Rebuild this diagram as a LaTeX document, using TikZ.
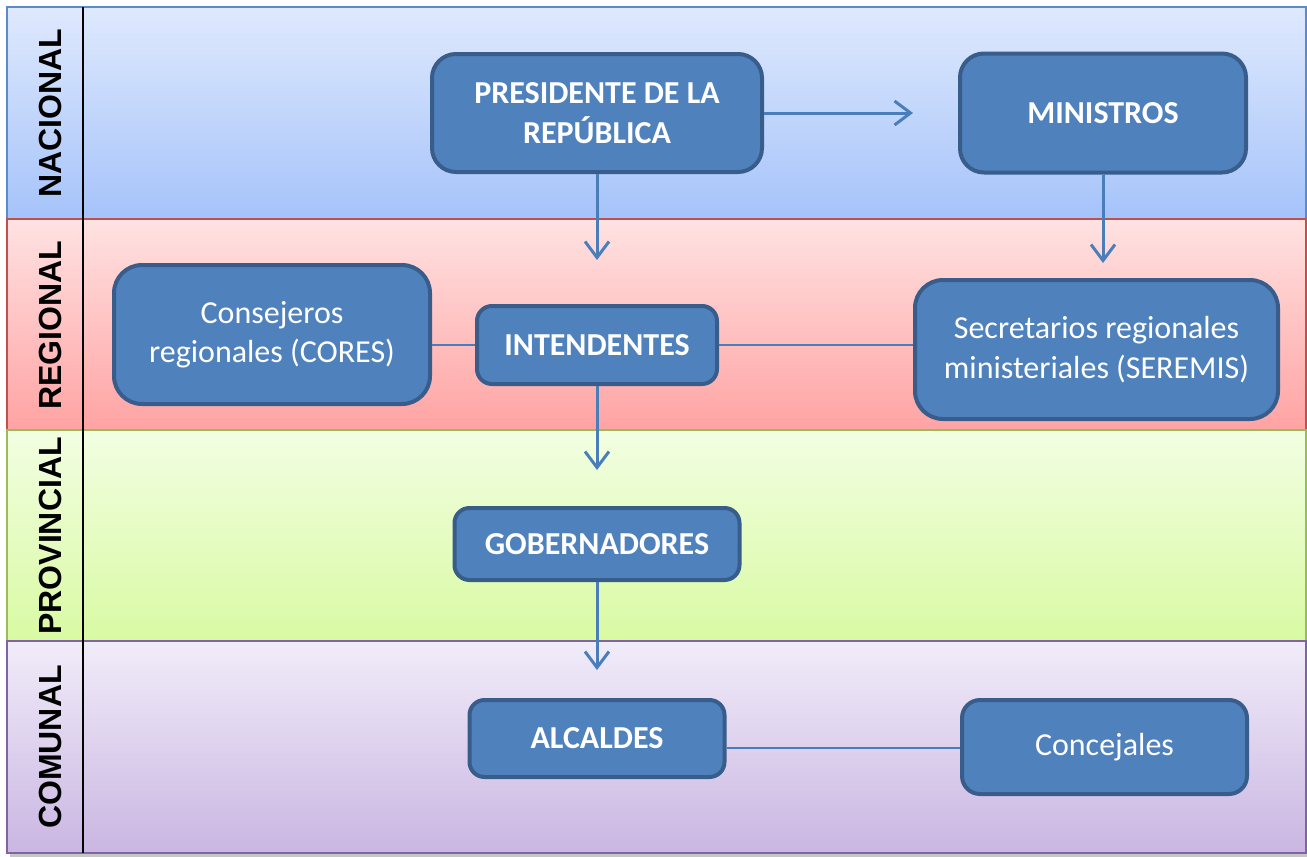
\documentclass[tikz,border=0pt]{standalone}
\usepackage{fontspec}
\setmainfont{Carlito}
\newfontfamily\labfont{Liberation Sans}
\usetikzlibrary{arrows.meta}
\definecolor{boxfill}{HTML}{4F81BD}
\definecolor{boxline}{HTML}{385D8A}
\definecolor{conn}{HTML}{4A7EBB}
\definecolor{natA}{HTML}{DFE9FD}
\definecolor{natB}{HTML}{A5C3FA}
\definecolor{natL}{HTML}{5B8BCB}
\definecolor{regA}{HTML}{FFE2E2}
\definecolor{regB}{HTML}{FFA3A3}
\definecolor{regL}{HTML}{C0504D}
\definecolor{proA}{HTML}{F2FEE2}
\definecolor{proB}{HTML}{D9FAA3}
\definecolor{proL}{HTML}{9BBB59}
\definecolor{comA}{HTML}{F1ECF9}
\definecolor{comB}{HTML}{CAB6E2}
\definecolor{comL}{HTML}{8064A2}
\begin{document}
\begin{tikzpicture}[x=1pt,y=-1pt,
  orgbox/.style={draw=boxline, line width=4pt, fill=boxfill, text=white,
    rectangle, inner sep=0pt, align=center,
    font=\fontsize{32}{39.5}\selectfont},
  boldbox/.style={orgbox, font=\fontsize{32}{39.5}\selectfont\bfseries},
  arr/.style={draw=conn, line width=3pt, -{Straight Barb[length=16pt,width=24pt,line width=3pt]}},
  link/.style={draw=conn, line width=2.5pt},
  bandlabel/.style={rotate=90, font=\labfont\bfseries\fontsize{32}{32}\selectfont, inner sep=0pt}
]
\useasboundingbox (0,0) rectangle (1307,857);
% shadow
\fill[gray!45] (10,10) rectangle (1307,857);
% bands
\shade[top color=natA, bottom color=natB] (7,7) rectangle (1306,219);
\draw[natL, line width=1.5pt] (7,7) rectangle (1306,219);
\shade[top color=regA, bottom color=regB] (7,219) rectangle (1306,430);
\draw[regL, line width=1.5pt] (7,219) rectangle (1306,430);
\shade[top color=proA, bottom color=proB] (7,430) rectangle (1306,641);
\draw[proL, line width=1.5pt] (7,430) rectangle (1306,641);
\shade[top color=comA, bottom color=comB] (7,641) rectangle (1306,853);
\draw[comL, line width=1.5pt] (7,641) rectangle (1306,853);
\draw[black, line width=2pt] (83,7) -- (83,853);
% band labels
\node[bandlabel] (lnac) at (50,113) {NACIONAL};
\node[bandlabel] (lreg) at (50,325) {REGIONAL};
\node[bandlabel] (lpro) at (50,536) {PROVINCIAL};
\node[bandlabel] (lcom) at (50,747) {COMUNAL};
% boxes
\node[boldbox, rounded corners=24pt, minimum width=330pt, minimum height=118pt] (pres) at (597,113) {PRESIDENTE DE LA\\REP\'UBLICA};
\node[boldbox, rounded corners=24pt, minimum width=286pt, minimum height=119pt] (min) at (1103,113) {MINISTROS};
\node[orgbox, rounded corners=28pt, minimum width=316pt, minimum height=139pt] (cores) at (272,334.5) {Consejeros\\regionales (CORES)};
\node[boldbox, rounded corners=15pt, minimum width=240pt, minimum height=78pt] (int) at (597,345) {INTENDENTES};
\node[orgbox, rounded corners=28pt, minimum width=363pt, minimum height=139pt] (sec) at (1096.5,349.5) {Secretarios regionales\\ministeriales (SEREMIS)};
\node[boldbox, rounded corners=15pt, minimum width=285pt, minimum height=72pt] (gob) at (597,544) {GOBERNADORES};
\node[boldbox, rounded corners=15pt, minimum width=255pt, minimum height=77pt] (alc) at (597,738.5) {ALCALDES};
\node[orgbox, rounded corners=18pt, minimum width=285pt, minimum height=94pt] (conc) at (1104.5,747) {Concejales};
% arrow ends
\coordinate (e1) at (913,113);
\coordinate (e2) at (597,260);
\coordinate (e3) at (1103,263);
\coordinate (e4) at (597,470);
\coordinate (e5) at (597,670);
% connectors
\draw[arr] (pres) -- (e1);
\draw[arr] (pres) -- (e2);
\draw[arr] (min) -- (e3);
\draw[arr] (int) -- (e4);
\draw[arr] (gob) -- (e5);
\draw[link] (int.west) -- (int.west -| cores.east);
\draw[link] (int.east) -- (int.east -| sec.west);
\draw[link] (conc.west |- 0,748) -- (alc.east |- 0,748);
\end{tikzpicture}
\end{document}
